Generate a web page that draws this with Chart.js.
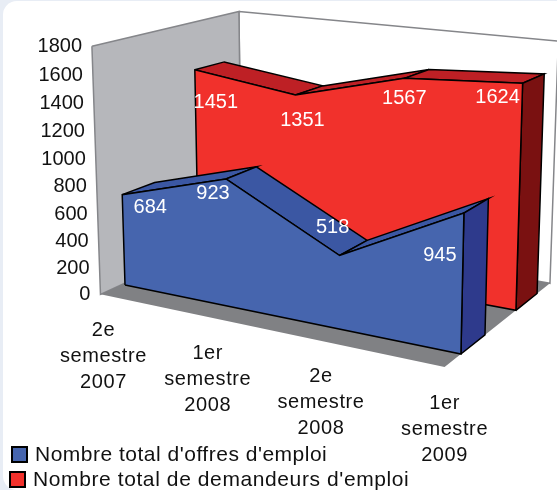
<!DOCTYPE html>
<html>
<head>
<meta charset="utf-8">
<title>Offres et demandeurs d'emploi</title>
<script src="https://cdn.jsdelivr.net/npm/chart.js@4"></script>
<style>
  html, body { margin: 0; width: 557px; height: 490px; overflow: hidden; background: #e8edf5; }
  #panel { position: absolute; left: 3px; top: 1px; width: 580px; height: 489px; background: #fff; border-radius: 14px 0 0 14px; }
  #chart { position: absolute; left: 0; top: 0; filter: blur(0.3px); }
</style>
</head>
<body>
<div id="panel"></div>
<canvas id="chart" width="557" height="490"></canvas>
<script>
const categories = [
    ['2e', 'semestre', '2007'],
    ['1er', 'semestre', '2008'],
    ['2e', 'semestre', '2008'],
    ['1er', 'semestre', '2009']
];
const offres = [684, 923, 518, 945];
const demandeurs = [1451, 1351, 1567, 1624];
const valueTicks = [0, 200, 400, 600, 800, 1000, 1200, 1400, 1600, 1800];
const seriesNames = ["Nombre total d'offres d'emploi", "Nombre total de demandeurs d'emploi"];

// where each value label sits relative to the top of its area, in pixels
const offresLabelShift = [[28, 13], [-13, 15], [-7, -28], [-24, 42]];
const demandeursLabelShift = [[21, 33], [7, 26], [0, 20], [-25, 14]];

// depth planes of the 3D box
const Z_FLOOR_FRONT = -0.64;
const Z_FLOOR_BACK = 4.11;
const Z_OFFRES = [0, 1];
const Z_DEMANDEURS = [2.4, 3.44];
const X_WALL = -0.03;
const AXIS_MAX = 1800;
const BACK_WALL_TOP = 1820;
const LAST = categories.length - 1;
const FONT = '"Liberation Sans", Arial, sans-serif';

// perspective camera: category index, value, depth -> canvas position
function project(cat, value, depth)
{
    const v = value / 1000;
    const w = 1 - 0.039 * cat - 0.02 * v + 0.0325 * depth;
    return {
        x: (125 + 94 * cat - 6.5 * v + 37 * depth) / w,
        y: (285 + 9.2 * cat - 136 * v - 6 * depth) / w
    };
}

function facet(points, fillColor, lineColor, lineWidth)
{
    return {
        data: points.concat([points[0]]),
        showLine: true,
        tension: 0,
        pointRadius: 0,
        pointHoverRadius: 0,
        fillColor: fillColor,
        borderColor: lineColor || 'transparent',
        borderWidth: lineWidth === undefined ? 1.5 : lineWidth
    };
}

// one area is a front face, a top strip per segment and a right side
function areaFacets(values, depths, colors)
{
    const [zf, zb] = depths;
    const list = [];
    for (let i = 0; i < LAST; i++)
    {
        list.push(facet([
            project(i, values[i], zf),
            project(i + 1, values[i + 1], zf),
            project(i + 1, values[i + 1], zb),
            project(i, values[i], zb)
        ], colors.top, '#000'));
    }
    list.push(facet([
        project(LAST, 0, zf),
        project(LAST, values[LAST], zf),
        project(LAST, values[LAST], zb),
        project(LAST, 0, zb)
    ], colors.side, '#000'));
    list.push(facet(
        [project(0, 0, zf)]
            .concat(values.map((v, i) => project(i, v, zf)))
            .concat([project(LAST, 0, zf)]),
        colors.front, '#000'));
    return list;
}

const walls = [
    facet([
        project(X_WALL, BACK_WALL_TOP, Z_FLOOR_BACK),
        project(LAST, BACK_WALL_TOP, Z_FLOOR_BACK),
        project(LAST, 0, Z_FLOOR_BACK),
        project(X_WALL, 0, Z_FLOOR_BACK)
    ], '#ffffff', '#85868a'),
    facet([
        project(X_WALL, AXIS_MAX, Z_FLOOR_FRONT),
        project(X_WALL, BACK_WALL_TOP, Z_FLOOR_BACK),
        project(X_WALL, 0, Z_FLOOR_BACK),
        project(X_WALL, 0, Z_FLOOR_FRONT)
    ], '#b6b7bb', '#85868a'),
    facet([
        project(X_WALL, 0, Z_FLOOR_FRONT),
        project(LAST, 0, Z_FLOOR_FRONT),
        project(LAST, 0, Z_FLOOR_BACK),
        project(X_WALL, 0, Z_FLOOR_BACK)
    ], '#808184', null, 0)
];

const offresColors = { front: '#4665ae', top: '#3b57a3', side: '#2e3a8c' };
const demandeursColors = { front: '#f1312c', top: '#be2025', side: '#7a1111' };

// back to front: lower order ends up on top
const facets = walls
    .concat(areaFacets(demandeurs, Z_DEMANDEURS, demandeursColors))
    .concat(areaFacets(offres, Z_OFFRES, offresColors));
facets.forEach((f, i) => { f.order = -i; });

const facetFill = {
    id: 'facetFill',
    beforeDatasetDraw(chart, args)
    {
        const ds = chart.data.datasets[args.index];
        const pts = args.meta.data;
        const ctx = chart.ctx;
        ctx.save();
        ctx.beginPath();
        pts.forEach((p, i) => { i ? ctx.lineTo(p.x, p.y) : ctx.moveTo(p.x, p.y); });
        ctx.closePath();
        ctx.fillStyle = ds.fillColor;
        ctx.fill();
        ctx.restore();
    }
};

const chartText = {
    id: 'chartText',
    afterDraw(chart)
    {
        const ctx = chart.ctx;
        const sx = chart.scales.x;
        const sy = chart.scales.y;
        const at = p => ({ x: sx.getPixelForValue(p.x), y: sy.getPixelForValue(p.y) });

        ctx.save();
        ctx.font = '20px ' + FONT;
        ctx.textBaseline = 'middle';

        // value axis
        ctx.fillStyle = '#111';
        ctx.textAlign = 'right';
        valueTicks.forEach(t =>
        {
            const p = at(project(0, t, Z_FLOOR_FRONT));
            ctx.fillText(String(t), p.x - 13, p.y);
        });

        // category axis
        ctx.textAlign = 'center';
        ctx.letterSpacing = '0.6px';
        categories.forEach((lines, i) =>
        {
            const p = at(project(i, 0, Z_FLOOR_FRONT));
            lines.forEach((line, n) => ctx.fillText(line, p.x, p.y + 36 + n * 26));
        });
        ctx.letterSpacing = '0px';

        // values on the areas
        ctx.fillStyle = '#fff';
        const valueLabels = (values, depth, shift) => values.forEach((v, i) =>
        {
            const p = at(project(i, v, depth));
            ctx.fillText(String(v), p.x + shift[i][0], p.y + shift[i][1]);
        });
        valueLabels(offres, Z_OFFRES[0], offresLabelShift);
        valueLabels(demandeurs, Z_DEMANDEURS[0], demandeursLabelShift);

        // legend
        ctx.textAlign = 'left';
        ctx.font = '21px ' + FONT;
        const legend = [
            { color: offresColors.front, box: 12, top: 447, size: 15, text: 35, mid: 455, spacing: '0.5px' },
            { color: demandeursColors.front, box: 10, top: 472, size: 15, text: 33, mid: 480, spacing: '0.6px' }
        ];
        legend.forEach((row, i) =>
        {
            ctx.fillStyle = row.color;
            ctx.strokeStyle = '#000';
            ctx.lineWidth = 2;
            ctx.fillRect(row.box, row.top, row.size, row.size);
            ctx.strokeRect(row.box, row.top, row.size, row.size);
            ctx.fillStyle = '#111';
            ctx.letterSpacing = row.spacing;
            ctx.fillText(seriesNames[i], row.text, row.mid);
        });
        ctx.restore();
    }
};

new Chart(document.getElementById('chart'), {
    type: 'scatter',
    data: { datasets: facets },
    options: {
        responsive: false,
        animation: false,
        layout: { padding: 0 },
        plugins: { legend: { display: false }, tooltip: { enabled: false } },
        scales: {
            x: { type: 'linear', min: 0, max: 557, display: false },
            y: { type: 'linear', min: 0, max: 490, reverse: true, display: false }
        }
    },
    plugins: [facetFill, chartText]
});
</script>
</body>
</html>
